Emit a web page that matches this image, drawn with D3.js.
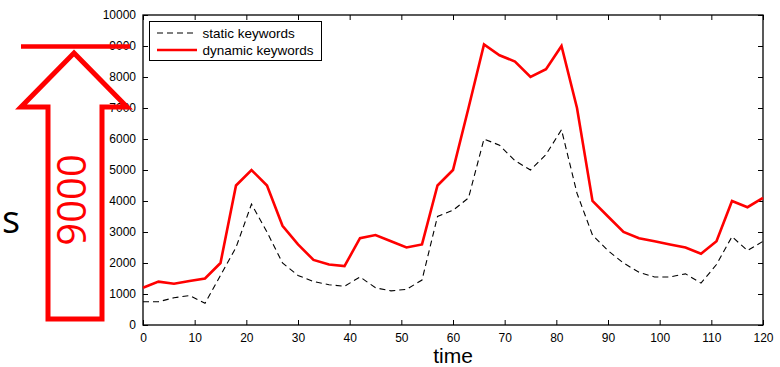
<!DOCTYPE html>
<html>
<head>
<meta charset="utf-8">
<script src="https://cdn.jsdelivr.net/npm/d3@7"></script>
<style>
  html, body { margin: 0; padding: 0; background: #fff; }
  svg { display: block; }
  .tick text { font-family: "Liberation Sans", Arial, sans-serif; font-size: 12px; fill: #000; }
</style>
</head>
<body>
<svg id="chart" width="780" height="367"></svg>
<script>
// data: sampled every 3 time units
var times = d3.range(0, 121, 3);
var staticKeywords = [
    750, 750, 880, 950, 700, 1600, 2500, 3900, 3000, 2000,
    1600, 1400, 1300, 1250, 1550, 1200, 1100, 1150, 1450, 3500,
    3700, 4100, 6000, 5800, 5300, 5000, 5500, 6300, 4250, 2900,
    2400, 2000, 1700, 1550, 1550, 1650, 1350, 1950, 2850, 2400, 2700
];
var dynamicKeywords = [
    1200, 1400, 1330, 1420, 1500, 2000, 4500, 5000, 4500, 3200,
    2600, 2100, 1950, 1900, 2800, 2900, 2700, 2500, 2600, 4500,
    5000, 7000, 9050, 8700, 8500, 8000, 8250, 9000, 7000, 4000,
    3500, 3000, 2800, 2700, 2600, 2500, 2300, 2700, 4000, 3800, 4100
];
var xTicks = d3.range(0, 121, 10);
var yTicks = d3.range(0, 10001, 1000);
var legendLabels = ['static keywords', 'dynamic keywords'];

var svg = d3.select('#chart');
var L = 143, R = 763, T = 15, B = 325;

var x = d3.scaleLinear().domain([0, 120]).range([L, R]);
var y = d3.scaleLinear().domain([0, 10000]).range([B, T]);

var font = '"Liberation Sans", Arial, sans-serif';

// axes (matlab style, ticks inside on all four sides)
svg.append('g').attr('transform', 'translate(0,' + B + ')')
    .call(d3.axisBottom(x).tickValues(xTicks).tickSize(-5).tickPadding(8).tickFormat(d3.format('d')))
    .call(function (g) { g.select('.domain').remove(); });
svg.append('g').attr('transform', 'translate(0,' + T + ')')
    .call(d3.axisTop(x).tickValues(xTicks).tickSize(-5).tickFormat(''))
    .call(function (g) { g.select('.domain').remove(); });
svg.append('g').attr('transform', 'translate(' + L + ',0)')
    .call(d3.axisLeft(y).tickValues(yTicks).tickSize(-5).tickPadding(7).tickFormat(d3.format('d')))
    .call(function (g) { g.select('.domain').remove(); });
svg.append('g').attr('transform', 'translate(' + R + ',0)')
    .call(d3.axisRight(y).tickValues(yTicks).tickSize(-5).tickFormat(''))
    .call(function (g) { g.select('.domain').remove(); });
svg.selectAll('.tick line').attr('stroke', '#000').attr('stroke-width', 1);

svg.append('rect')
    .attr('x', L).attr('y', T).attr('width', R - L).attr('height', B - T)
    .attr('fill', 'none').attr('stroke', '#000').attr('stroke-width', 1.3);

var line = d3.line()
    .x(function (d, i) { return x(times[i]); })
    .y(function (d) { return y(d); });

svg.append('path').datum(staticKeywords)
    .attr('d', line).attr('fill', 'none')
    .attr('stroke', '#000').attr('stroke-width', 1.1)
    .attr('stroke-dasharray', '6,4');

svg.append('path').datum(dynamicKeywords)
    .attr('d', line).attr('fill', 'none')
    .attr('stroke', '#ff0000').attr('stroke-width', 2.6)
    .attr('stroke-linejoin', 'miter');

// legend
var lg = svg.append('g');
lg.append('rect').attr('x', 149.5).attr('y', 21.5).attr('width', 172).attr('height', 39)
    .attr('fill', '#fff').attr('stroke', '#000').attr('stroke-width', 1);
legendLabels.forEach(function (lab, i) {
    var ly = 33 + i * 17;
    lg.append('line').attr('x1', 157).attr('x2', 197).attr('y1', ly).attr('y2', ly)
        .attr('stroke', i === 0 ? '#000' : '#ff0000')
        .attr('stroke-width', i === 0 ? 1.1 : 2.6)
        .attr('stroke-dasharray', i === 0 ? '6,4' : null);
    lg.append('text').attr('x', 202.5).attr('y', ly + 4.5)
        .attr('font-family', font).attr('font-size', 13.5).text(lab);
});

// x label
svg.append('text').attr('x', 453).attr('y', 363).attr('text-anchor', 'middle')
    .attr('font-family', font).attr('font-size', 21).text('time');

// overlay annotation
svg.append('text').attr('x', 2).attr('y', 233)
    .attr('font-family', '"Open Sans", "Noto Sans", sans-serif').attr('font-size', 38).text('s');

svg.append('line').attr('x1', 21).attr('x2', 130).attr('y1', 46.5).attr('y2', 46.5)
    .attr('stroke', '#ff0000').attr('stroke-width', 4.5);

svg.append('path')
    .attr('d', 'M74,53 L127,107 L102,107 L102,319 L48,319 L48,107 L21,107 Z')
    .attr('fill', 'none').attr('stroke', '#ff0000').attr('stroke-width', 5)
    .attr('stroke-linejoin', 'miter');

svg.append('text')
    .attr('transform', 'translate(86,200) rotate(-90)')
    .attr('text-anchor', 'middle')
    .attr('font-family', '"Open Sans", "Noto Sans", sans-serif').attr('font-size', 40)
    .attr('fill', '#ff0000').text('9000');
</script>
</body>
</html>
